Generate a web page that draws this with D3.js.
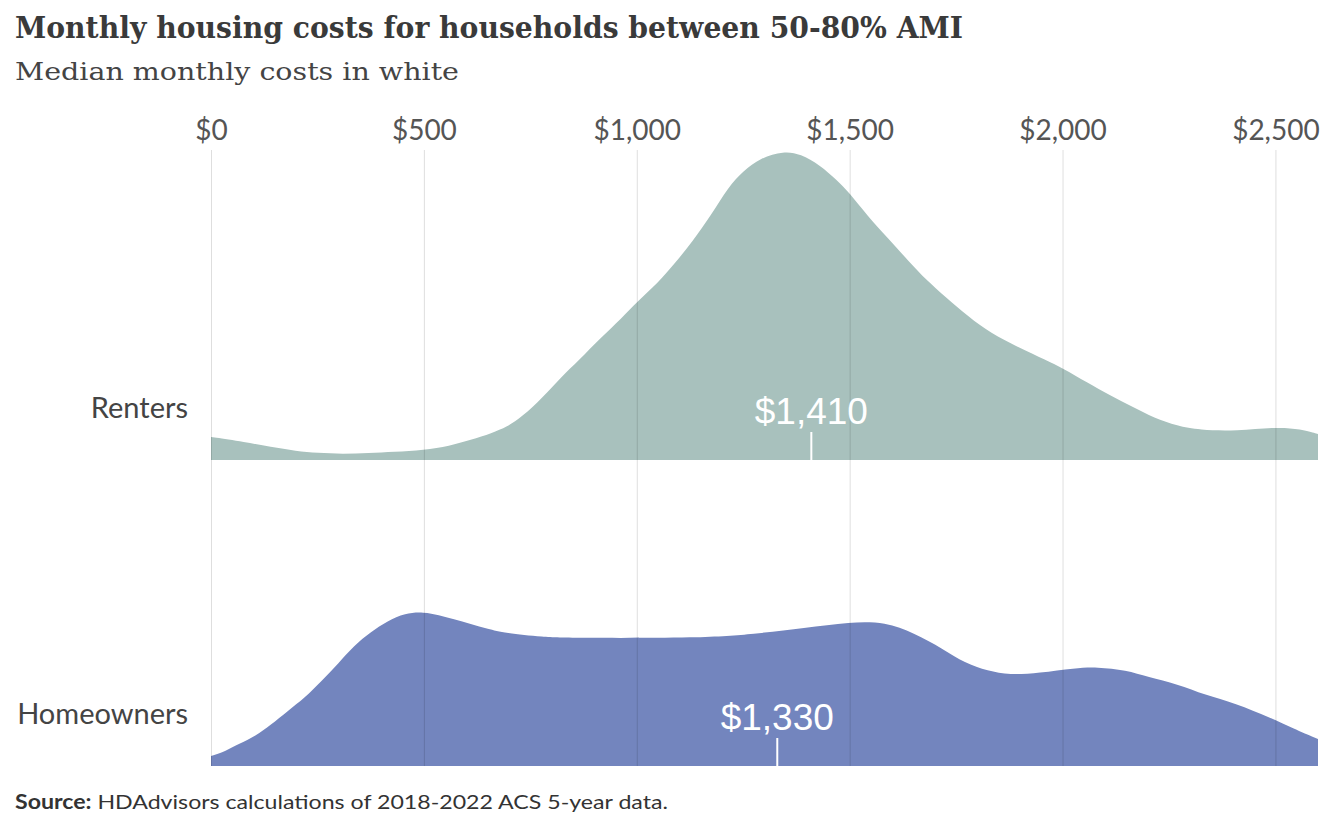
<!DOCTYPE html>
<html>
<head>
<meta charset="utf-8">
<script src="https://cdn.jsdelivr.net/npm/d3@7"></script>
<style>
  body { margin: 0; background: #fff; }
  svg { display: block; }
</style>
</head>
<body>
<svg id="chart" width="1344" height="830"></svg>
<script>
// Values (relative density, arbitrary units)
const groups = ["Renters", "Homeowners"]
const medians = [1410, 1330]
const colors = ["#a8c1bd", "#7385be"]
const tickValues = [0, 500, 1000, 1500, 2000, 2500]

const rentersCost = [0, 80, 140, 200, 250, 310, 370, 430, 500, 560, 610, 660, 695, 730, 780, 820, 865, 915, 965, 1000, 1050, 1090, 1130, 1175, 1215, 1250, 1290, 1345, 1385, 1430, 1470, 1500, 1540, 1590, 1640, 1680, 1725, 1780, 1830, 1900, 1960, 2000, 2060, 2110, 2165, 2215, 2270, 2320, 2410, 2500, 2560, 2600]
const rentersDensity = [2.3, 1.8, 1.3, 0.9, 0.7, 0.6, 0.7, 0.8, 1.0, 1.4, 2.0, 2.7, 3.3, 4.3, 6.3, 8.2, 10.0, 12.2, 14.2, 15.8, 17.7, 19.7, 21.8, 24.5, 27.3, 28.9, 30.2, 30.9, 30.6, 29.5, 28.0, 26.7, 24.5, 22.2, 19.8, 18.0, 16.3, 14.3, 12.7, 11.2, 10.0, 9.2, 7.7, 6.5, 5.3, 4.2, 3.4, 3.0, 2.9, 3.3, 3.1, 2.6]

const ownersCost = [0, 35, 65, 105, 140, 180, 220, 260, 300, 335, 375, 415, 455, 500, 535, 570, 610, 650, 690, 780, 850, 1155, 1275, 1395, 1500, 1585, 1650, 1720, 1770, 1825, 1875, 1945, 2030, 2080, 2150, 2200, 2270, 2335, 2405, 2490, 2540, 2600]
const ownersDensity = [1.0, 1.5, 2.2, 3.0, 4.1, 5.5, 6.8, 8.5, 10.3, 12.0, 13.4, 14.5, 15.3, 15.4, 15.1, 14.7, 14.2, 13.7, 13.3, 12.9, 12.8, 12.8, 13.2, 13.8, 14.4, 14.4, 13.3, 11.7, 10.3, 9.5, 9.1, 9.3, 9.8, 9.9, 9.6, 8.9, 8.2, 7.1, 6.3, 4.8, 3.8, 2.7]

const series = [
  { cost: rentersCost, density: rentersDensity },
  { cost: ownersCost, density: ownersDensity }
]

const svg = d3.select("#chart")

const x = d3.scaleLinear().domain([0, 2600]).range([211, 1318])
const baseline = d3.scaleOrdinal().domain(groups).range([460, 766])
const h = d3.scaleLinear().domain([0, 30.8]).range([0, 308])

// Title and subtitle
svg.append("text")
  .attr("x", 15).attr("y", 38)
  .attr("font-family", "'Roboto Slab', 'DejaVu Serif', serif")
  .attr("font-weight", "bold")
  .attr("font-size", 30)
  .attr("fill", "#3a3a3a")
  .attr("textLength", 948)
  .attr("lengthAdjust", "spacingAndGlyphs")
  .text("Monthly housing costs for households between 50-80% AMI")

svg.append("text")
  .attr("x", 15).attr("y", 80)
  .attr("font-family", "'Roboto Slab', 'DejaVu Serif', serif")
  .attr("font-size", 25)
  .attr("fill", "#444")
  .attr("textLength", 444)
  .attr("lengthAdjust", "spacingAndGlyphs")
  .text("Median monthly costs in white")

// Axis labels on top
const axis = d3.axisTop(x)
  .tickValues(tickValues)
  .tickSize(0)
  .tickPadding(0)
  .tickFormat(d => "$" + d3.format(",")(d))

const axisG = svg.append("g")
  .attr("transform", "translate(0,140)")
  .call(axis)
axisG.select(".domain").remove()
axisG.selectAll("text")
  .attr("font-family", "Lato, sans-serif")
  .attr("font-size", 28)
  .attr("fill", "#555")
  .attr("dy", 0)

// Density ridges
const area = d3.area()
  .curve(d3.curveBasis)
  .x(d => x(d[0]))
  .y0(d => d[2])
  .y1(d => d[2] - h(d[1]))

groups.forEach((g, i) => {
  const s = series[i]
  const pts = s.cost.map((c, j) => [c, s.density[j], baseline(g)])
  svg.append("path")
    .datum(pts)
    .attr("d", area)
    .attr("fill", colors[i])

  svg.append("text")
    .attr("x", 188)
    .attr("y", baseline(g) - 42)
    .attr("text-anchor", "end")
    .attr("font-family", "Lato, sans-serif")
    .attr("font-size", 29)
    .attr("fill", "#444")
    .text(g)
})

// Gridlines on top of the ridges
svg.append("g")
  .selectAll("line")
  .data(tickValues)
  .join("line")
  .attr("x1", d => x(d) + 0.5).attr("x2", d => x(d) + 0.5)
  .attr("y1", 150).attr("y2", 766)
  .attr("stroke", "#000")
  .attr("stroke-opacity", 0.13)
  .attr("stroke-width", 1)

// Median markers
groups.forEach((g, i) => {
  const mx = x(medians[i])
  const b = baseline(g)
  svg.append("line")
    .attr("x1", mx).attr("x2", mx)
    .attr("y1", b - 28).attr("y2", b)
    .attr("stroke", "#fff")
    .attr("stroke-width", 2)
  svg.append("text")
    .attr("x", mx)
    .attr("y", b - 36)
    .attr("text-anchor", "middle")
    .attr("font-family", "'Liberation Sans', Arial, sans-serif")
    .attr("font-size", 37)
    .attr("fill", "#fff")
    .text("$" + d3.format(",")(medians[i]))
})

// Source
const src = svg.append("text")
  .attr("x", 15).attr("y", 809)
  .attr("font-family", "Lato, sans-serif")
  .attr("font-size", 20)
  .attr("fill", "#333")
  .attr("textLength", 653)
  .attr("lengthAdjust", "spacingAndGlyphs")
src.append("tspan").attr("font-weight", "bold").text("Source:")
src.append("tspan").text(" HDAdvisors calculations of 2018-2022 ACS 5-year data.")
</script>
</body>
</html>
